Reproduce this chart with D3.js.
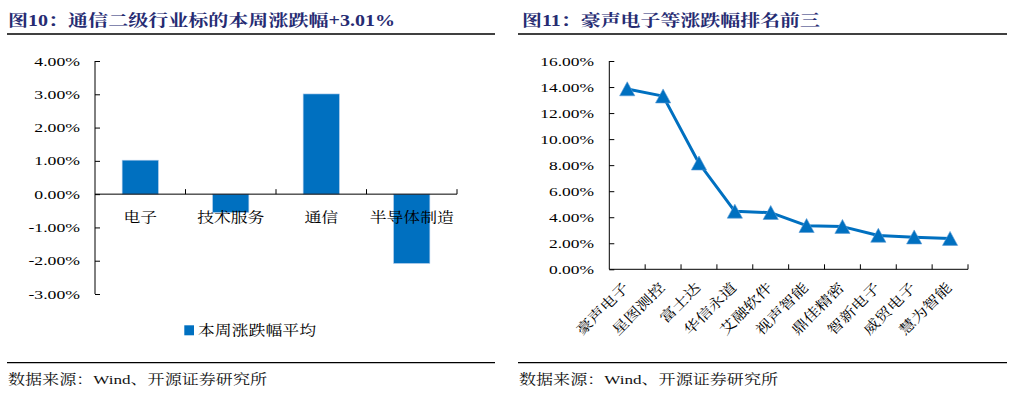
<!DOCTYPE html>
<html><head><meta charset="utf-8">
<script src="https://cdn.jsdelivr.net/npm/d3@7"></script>
<style>
html,body{margin:0;padding:0;background:#fff;}
svg{display:block;}
</style></head>
<body>
<svg id="c" width="1017" height="396"></svg>
<script>
// ---- data ----
const title1 = "图10：通信二级行业标的本周涨跌幅+3.01%";
const title2 = "图11：豪声电子等涨跌幅排名前三";
const sourceText = "数据来源：Wind、开源证券研究所";
const cats1 = ["电子", "技术服务", "通信", "半导体制造"];
const vals1 = [1.02, -0.55, 3.01, -2.08];
const ticks1 = [4, 3, 2, 1, 0, -1, -2, -3];
const legend1 = "本周涨跌幅平均";
const cats2 = ["豪声电子", "星图测控", "富士达", "华信永道", "艾融软件", "视声智能", "鼎佳精密", "智新电子", "威贸电子", "慧为智能"];
const vals2 = [13.85, 13.3, 8.15, 4.45, 4.35, 3.35, 3.28, 2.6, 2.47, 2.36];
const ticks2 = [0, 2, 4, 6, 8, 10, 12, 14, 16];

const BLUE = "#0070C0";
const NAVY = "#262B72";
const FONT = "'Liberation Serif','Noto Serif CJK SC','Noto Sans CJK SC',serif";
const svg = d3.select("#c");
const fmt = v => v.toFixed(2) + "%";

// stretch text horizontally by factor
function stretch(sel, k) {
  sel.each(function () {
    const L = this.getComputedTextLength();
    d3.select(this).attr("textLength", L * k).attr("lengthAdjust", "spacingAndGlyphs");
  });
}
function fitTo(sel, w) {
  sel.attr("textLength", w).attr("lengthAdjust", "spacingAndGlyphs");
}

// ---- titles and rules ----
const heads = [
  {t: title1, x: 8, w: 387, x0: 7, x1: 495},
  {t: title2, x: 522, w: 298, x0: 518, x1: 1007}
];
heads.forEach(h => {
  svg.append("text").attr("x", h.x).attr("y", 26).text(h.t)
    .attr("font-family", FONT).attr("font-size", 16).attr("font-weight", "bold")
    .attr("fill", NAVY).call(fitTo, h.w);
  svg.append("line").attr("x1", h.x0).attr("x2", h.x1).attr("y1", 34).attr("y2", 34)
    .attr("stroke", "#000").attr("stroke-width", 1.3);
  svg.append("line").attr("x1", h.x0).attr("x2", h.x1).attr("y1", 362.7).attr("y2", 362.7)
    .attr("stroke", "#000").attr("stroke-width", 1.3);
  svg.append("text").attr("x", h.x0 + 1).attr("y", 384).text(sourceText)
    .attr("font-family", FONT).attr("font-size", 13.5).attr("fill", "#111")
    .call(fitTo, 259);
});

// ---- chart 1: bars ----
{
  const x = d3.scaleBand().domain(cats1).range([95, 457]).paddingInner(0.6).paddingOuter(0.3);
  const y = d3.scaleLinear().domain([-3, 4]).range([294, 61]);
  const g = svg.append("g");
  g.selectAll("rect.bar").data(vals1).join("rect")
    .attr("x", (d, i) => x(cats1[i]))
    .attr("width", x.bandwidth())
    .attr("y", d => y(Math.max(0, d)))
    .attr("height", d => Math.abs(y(d) - y(0)))
    .attr("fill", BLUE).attr("stroke", "#a9c7e8").attr("stroke-width", 0.6);

  // y axis
  const ya = d3.axisRight(y).tickValues(ticks1).tickSize(5).tickFormat("");
  g.append("g").attr("transform", "translate(95,0)").call(ya)
    .call(s => s.select(".domain").attr("d", `M0,${y(4)}V${y(-3)}`).attr("stroke", "#000"))
    .call(s => s.selectAll(".tick line").attr("stroke", "#000"));
  g.selectAll("text.yl").data(ticks1).join("text").attr("class", "yl")
    .attr("x", 80).attr("y", d => y(d)).attr("dy", "0.35em")
    .attr("text-anchor", "end").text(d => fmt(d))
    .attr("font-family", FONT).attr("font-size", 13).attr("fill", "#000")
    .call(stretch, 1.36);

  // x axis at zero
  const xa = d3.axisTop(x).tickSize(0).tickFormat("");
  g.append("g").attr("transform", `translate(0,${y(0)})`).call(xa)
    .call(s => s.select(".domain").attr("d", "M95,0H457").attr("stroke", "#000"));
  const bounds = cats1.map((c, i) => x(c) - x.step() * x.paddingInner() / 2 + x.step());
  g.selectAll("line.xt").data(bounds).join("line").attr("class", "xt")
    .attr("x1", d => d).attr("x2", d => d).attr("y1", y(0)).attr("y2", y(0) - 5)
    .attr("stroke", "#000");
  g.selectAll("text.xl").data(cats1).join("text").attr("class", "xl")
    .attr("x", d => x(d) + x.bandwidth() / 2).attr("y", 217).attr("dy", "0.35em")
    .attr("text-anchor", "middle").text(d => d)
    .attr("font-family", FONT).attr("font-size", 14).attr("fill", "#000")
    .call(stretch, 1.2);

  // legend
  g.append("rect").attr("x", 184.3).attr("y", 325.3).attr("width", 9.7).attr("height", 10).attr("fill", BLUE);
  g.append("text").attr("x", 198).attr("y", 330.5).attr("dy", "0.35em").text(legend1)
    .attr("font-family", FONT).attr("font-size", 14).attr("fill", "#000").call(fitTo, 118);
}

// ---- chart 2: line ----
{
  const x = d3.scaleBand().domain(cats2).range([609.3, 968]);
  const y = d3.scaleLinear().domain([0, 16]).range([269.3, 61]);
  const g = svg.append("g");
  const ya = d3.axisRight(y).tickValues(ticks2).tickSize(5).tickFormat("");
  g.append("g").attr("transform", "translate(609.3,0)").call(ya)
    .call(s => s.select(".domain").attr("d", `M0,${y(16)}V${y(0)}`).attr("stroke", "#000"))
    .call(s => s.selectAll(".tick line").attr("stroke", "#000"));
  g.selectAll("text.yl").data(ticks2).join("text").attr("class", "yl")
    .attr("x", 594).attr("y", d => y(d)).attr("dy", "0.35em")
    .attr("text-anchor", "end").text(d => fmt(d))
    .attr("font-family", FONT).attr("font-size", 13).attr("fill", "#000")
    .call(stretch, 1.34);

  g.append("line").attr("x1", 609.3).attr("x2", 968).attr("y1", y(0)).attr("y2", y(0)).attr("stroke", "#000");
  const bounds = cats2.map(c => x(c) + x.step());
  g.selectAll("line.xt").data(bounds).join("line").attr("class", "xt")
    .attr("x1", d => d).attr("x2", d => d).attr("y1", y(0)).attr("y2", y(0) - 5)
    .attr("stroke", "#000");

  const cx = (d, i) => x(cats2[i]) + x.bandwidth() / 2;
  const line = d3.line().x(cx).y(d => y(d));
  g.append("path").datum(vals2).attr("d", line).attr("fill", "none")
    .attr("stroke", BLUE).attr("stroke-width", 3).attr("stroke-linejoin", "round");
  g.selectAll("path.mk").data(vals2).join("path").attr("class", "mk")
    .attr("transform", (d, i) => `translate(${cx(d, i)},${y(d)})`)
    .attr("d", "M0,-7.2L7.6,6.8L-7.6,6.8Z")
    .attr("fill", BLUE).attr("stroke", "#5b9bd5").attr("stroke-width", 0.6);

  g.selectAll("text.xl").data(cats2).join("text").attr("class", "xl")
    .attr("transform", d => `translate(${x(d) + x.bandwidth() / 2 - 1},${285}) rotate(-45)`)
    .attr("dy", "0.35em").attr("text-anchor", "end").text(d => d)
    .attr("font-family", FONT).attr("font-size", 14).attr("fill", "#000")
    .call(stretch, 1.2);
}
</script>
</body></html>
